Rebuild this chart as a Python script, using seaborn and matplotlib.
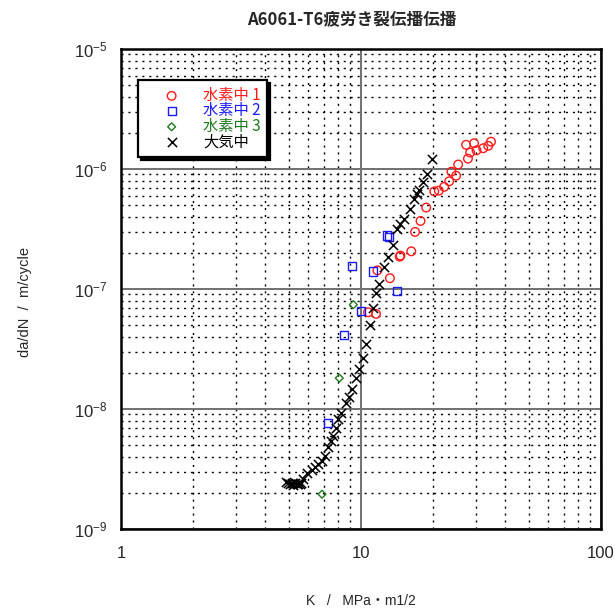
import numpy as np
import pandas as pd
import matplotlib
matplotlib.use("Agg")
import matplotlib.pyplot as plt
import seaborn as sns
from matplotlib.ticker import LogLocator, NullFormatter

# --- data (K in MPa*m^1/2, da/dN in m/cycle) ---
h1_k = [27.4, 29.6, 28.5, 30.3, 32.3, 33.9, 34.8, 27.9, 25.4, 23.8, 24.9, 23.3,
        22.2, 21.1, 20.2, 18.7, 17.7, 16.8, 16.2, 14.6, 14.5, 13.2, 11.7, 11.55, 10.7]
h1_dadn = [1.59e-6, 1.64e-6, 1.37e-6, 1.43e-6, 1.49e-6, 1.56e-6, 1.69e-6, 1.22e-6,
           1.09e-6, 9.5e-7, 8.8e-7, 7.9e-7, 7.1e-7, 6.6e-7, 6.5e-7, 4.77e-7, 3.69e-7,
           2.99e-7, 2.06e-7, 1.90e-7, 1.86e-7, 1.23e-7, 1.43e-7, 6.2e-8, 6.4e-8]

h2_k = [12.8, 13.1, 9.2, 11.25, 14.1, 10.0, 8.5, 7.27]
h2_dadn = [2.79e-7, 2.72e-7, 1.56e-7, 1.40e-7, 9.7e-8, 6.5e-8, 4.13e-8, 7.7e-9]

h3_k = [9.29, 8.12, 6.88]
h3_dadn = [7.4e-8, 1.81e-8, 1.95e-9]

air_k = [19.8, 18.9, 18.2, 17.45, 17.06, 16.6, 16.0, 15.1, 14.5, 14.1, 13.55, 12.9,
         12.5, 11.9, 11.6, 11.2, 10.9, 10.5, 10.2, 9.81, 9.53, 9.15, 8.91, 8.66,
         8.25, 8.04, 7.85, 7.67, 7.48, 7.31, 7.08, 6.86, 6.64, 6.43, 6.23, 5.97,
         5.75, 5.62, 5.48, 5.31, 5.14, 4.98, 4.87, 5.05, 5.22, 5.40, 5.57]
air_dadn = [1.21e-6, 9.08e-7, 7.78e-7, 6.71e-7, 6.22e-7, 5.62e-7, 4.67e-7, 3.84e-7,
            3.48e-7, 3.17e-7, 2.34e-7, 1.85e-7, 1.53e-7, 1.11e-7, 9.3e-8, 6.98e-8,
            4.97e-8, 3.45e-8, 2.64e-8, 2.14e-8, 1.83e-8, 1.48e-8, 1.27e-8, 1.12e-8,
            9.2e-9, 8.2e-9, 7.0e-9, 5.97e-9, 5.42e-9, 4.78e-9, 4.07e-9, 3.70e-9,
            3.47e-9, 3.26e-9, 3.11e-9, 2.92e-9, 2.61e-9, 2.44e-9, 2.38e-9, 2.44e-9,
            2.41e-9, 2.44e-9, 2.47e-9, 2.36e-9, 2.34e-9, 2.37e-9, 2.35e-9]

labels = ["水素中 1", "水素中 2", "水素中 3", "大気中"]
colors = ["#ff1a1a", "#1a1aff", "#1e7a1e", "#000000"]
x_ticks = [1, 10, 100]
x_ticklabels = ["1", "10", "100"]
y_ticks = [1e-9, 1e-8, 1e-7, 1e-6, 1e-5]

sns.set_style("white")
plt.rcParams['font.family'] = ['Liberation Sans', 'Noto Sans CJK JP', 'DejaVu Sans']
cjk = ['Noto Sans CJK JP', 'DejaVu Sans']

fig = plt.figure(figsize=(6.15, 6.15), dpi=100)
ax = fig.add_axes([121 / 615, 1 - 529 / 615, 480 / 615, 480 / 615])

sns.scatterplot(x=h1_k, y=h1_dadn, ax=ax, marker="o", s=38, fc="none",
                ec=colors[0], linewidth=1.0, label=labels[0], zorder=5)
sns.scatterplot(x=h2_k, y=h2_dadn, ax=ax, marker="s", s=34, fc="none",
                ec=colors[1], linewidth=1.0, label=labels[1], zorder=5)
sns.scatterplot(x=h3_k, y=h3_dadn, ax=ax, marker="D", s=16, fc="none",
                ec=colors[2], linewidth=1.0, label=labels[2], zorder=5)
sns.scatterplot(x=air_k, y=air_dadn, ax=ax, marker="x", s=44, color=colors[3],
                linewidth=1.1, label=labels[3], zorder=5)

ax.set_xscale("log")
ax.set_yscale("log")
ax.set_xlim(1, 100)
ax.set_ylim(1e-9, 1e-5)

ax.set_xticks(x_ticks)
ax.set_xticklabels(x_ticklabels)
ax.set_yticks(y_ticks)
ax.xaxis.set_minor_locator(LogLocator(base=10, subs=np.arange(2, 10), numticks=20))
ax.yaxis.set_minor_locator(LogLocator(base=10, subs=np.arange(2, 10), numticks=20))
ax.xaxis.set_minor_formatter(NullFormatter())
ax.yaxis.set_minor_formatter(NullFormatter())
ax.set_xlim(1, 100)
ax.set_ylim(1e-9, 1e-5)

ax.grid(True, which="major", color="#707070", linewidth=1.4, linestyle="-")
ax.grid(True, which="minor", color="black", linewidth=1.0, linestyle=(0, (1.5, 3.5)))
ax.set_axisbelow(True)
ax.tick_params(which="both", length=0)
ax.tick_params(axis="x", labelsize=12, pad=12)
ax.tick_params(axis="y", labelsize=12, pad=10)

for sp in ax.spines.values():
    sp.set_linewidth(1.8)
    sp.set_color("black")

ax.set_title("A6061-T6疲労き裂伝播伝播", fontsize=12, fontweight="bold",
             family=cjk, pad=17, x=0.48)
ax.set_xlabel("K   /   MPa・m1/2", fontsize=10)
ax.set_ylabel("da/dN  /  m/cycle", fontsize=10.5)
ax.xaxis.set_label_coords(0.5, -0.135)
ax.yaxis.set_label_coords(-0.185, 0.473)

leg = ax.legend(loc="upper left", bbox_to_anchor=(17 / 480, 1 - 31 / 480),
                frameon=True, fancybox=False, shadow={"color": "black", "alpha": 1},
                edgecolor="black", labelcolor=colors, prop={"family": cjk, "size": 11},
                handletextpad=0.3, borderpad=0.45, labelspacing=-0.1,
                borderaxespad=0, handlelength=3.5)
leg.get_frame().set_linewidth(1.6)

fig.savefig("out.png", dpi=100)
